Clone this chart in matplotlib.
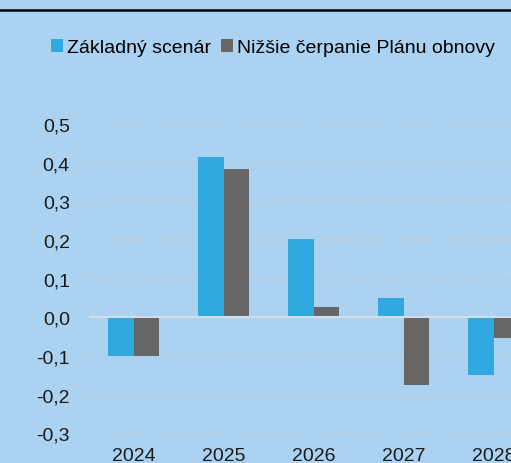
import numpy as np
import matplotlib
matplotlib.use('Agg')
import matplotlib.pyplot as plt
from matplotlib.lines import Line2D
from matplotlib.ticker import FuncFormatter

# data
years = ['2024', '2025', '2026', '2027', '2028']
zakladny = [-0.10, 0.414, 0.202, 0.051, -0.150]
nizsie = [-0.10, 0.383, 0.027, -0.175, -0.054]
series_names = ['Základný scenár', 'Nižšie čerpanie Plánu obnovy']
y_ticks = [-0.3, -0.2, -0.1, 0.0, 0.1, 0.2, 0.3, 0.4, 0.5]

bg = '#abd3f1'
c_blue = '#2fa9e0'
c_gray = '#666666'

plt.rcParams['font.family'] = ['Liberation Sans', 'DejaVu Sans']

W, H = 511, 464
fig = plt.figure(figsize=(W / 100, H / 100), dpi=100, facecolor=bg)
ax = fig.add_axes([88.5 / W, (H - 434.3) / H, 450 / W, (434.3 - 125) / H])
ax.set_facecolor(bg)

x = np.arange(len(years))
bw = 0.285
b1 = ax.bar(x - bw / 2, zakladny, bw, color=c_blue, label=series_names[0], zorder=3)
b2 = ax.bar(x + bw / 2, nizsie, bw, color=c_gray, label=series_names[1], zorder=3)

ax.set_xlim(-0.5, len(years) - 0.5)
ax.set_ylim(-0.3, 0.5)
ax.set_yticks(y_ticks)
ax.yaxis.set_major_formatter(FuncFormatter(lambda v, p: ('%.1f' % v).replace('.', ',')))
ax.set_xticks(x)
ax.set_xticklabels(years)

for v in y_ticks:
    if abs(v) > 1e-9:
        ax.axhline(v, color='#c4c4c4', lw=1.1, ls=(0, (1.1, 1.8)), zorder=1)
ax.axhline(0, color='#d3dde6', lw=1.5, zorder=4)

for s in ax.spines.values():
    s.set_visible(False)
ax.tick_params(axis='both', length=0, labelsize=14, colors='#1a1a1a')
ax.tick_params(axis='y', pad=13.5)
ax.tick_params(axis='x', pad=10)

fig.legend(handles=[b1, b2], labels=series_names, loc='center',
           bbox_to_anchor=(273 / W, 1 - 48.5 / H), ncol=2, frameon=False,
           fontsize=14, handlelength=0.62, handleheight=0.62, handletextpad=0.22,
           columnspacing=0.5, borderaxespad=0)

fig.add_artist(Line2D([0, 1], [1 - 10.7 / H, 1 - 10.7 / H], color='black', lw=1.8,
                      transform=fig.transFigure))

fig.savefig('out.png', dpi=100, facecolor=bg)
